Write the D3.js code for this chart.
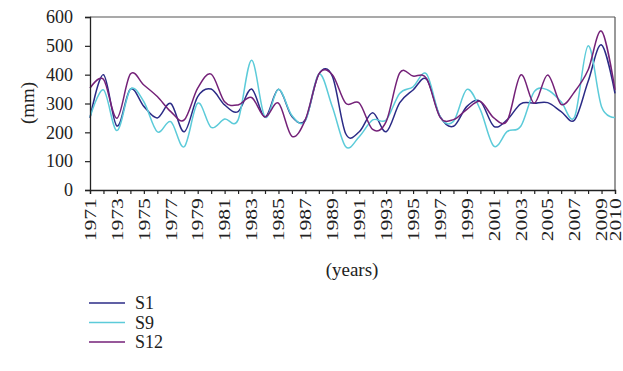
<!DOCTYPE html>
<html><head><meta charset="utf-8">
<script src="https://cdn.jsdelivr.net/npm/d3@7"></script>
<style>
body{margin:0;background:#fff}
text{font-family:"Liberation Serif",Tinos,"Times New Roman",Times,serif;fill:#222}
</style>
</head><body>
<svg id="c" width="623" height="371"></svg>
<script>
const years = d3.range(1971, 2011);
const xTickLabels = [1971,1973,1975,1977,1979,1981,1983,1985,1987,1989,1991,1993,1995,1997,1999,2001,2003,2005,2007,2009,2010];
const yTicks = [0,100,200,300,400,500,600];
const seriesNames = ["S1","S9","S12"];
const seriesColors = ["#2b2b86","#5ccbd9","#742178"];
const s1 = [250,400,222,350,290,250,300,202,324,350,295,272,350,253,349,255,244,402,395,195,202,268,202,302,347,384,255,221,290,307,221,244,299,301,303,272,243,376,503,335];
const s9 = [252,347,206,349,306,202,237,150,301,217,246,243,450,253,349,258,240,402,289,150,185,243,243,335,358,402,255,238,349,278,152,203,221,341,347,306,254,500,289,252];
const s12 = [353,384,249,402,364,324,272,243,353,402,306,295,321,253,301,186,244,402,400,301,302,210,237,405,395,387,253,244,280,307,250,241,399,301,399,297,341,416,551,347];
const series = [s1, s9, s12];

const svg = d3.select("#c");
const x = d3.scaleLinear().domain([1971,2010]).range([90,615]);
const y = d3.scaleLinear().domain([0,600]).range([190,17]);

// frame (top and right)
svg.append("line").attr("x1",90).attr("x2",615).attr("y1",y(600)).attr("y2",y(600)).attr("stroke","#555").attr("stroke-width",1.2);
svg.append("line").attr("x1",615).attr("x2",615).attr("y1",y(600)).attr("y2",y(0)).attr("stroke","#555").attr("stroke-width",1.2);

// lines
const line = d3.line().x((d,i)=>x(years[i])).y(d=>y(d)).curve(d3.curveCardinal.tension(0));
series.forEach((s,k)=>{
  svg.append("path").attr("d",line(s)).attr("fill","none").attr("stroke",seriesColors[k]).attr("stroke-width",1.5);
});

// y axis
const ya = svg.append("g").attr("transform","translate(90,0)")
  .call(d3.axisLeft(y).tickValues(yTicks).tickSize(5).tickPadding(12));
ya.select(".domain").attr("stroke","#222").attr("stroke-width",1.3);
ya.selectAll(".tick line").attr("stroke","#222").attr("stroke-width",1.2);
ya.selectAll("text").style("font-size","18px").attr("fill","#222");

// x axis
const xa = svg.append("g").attr("transform","translate(0,190)")
  .call(d3.axisBottom(x).tickValues(years).tickSize(4).tickFormat(d=>xTickLabels.includes(d)?String(d):""));
xa.select(".domain").attr("stroke","#222").attr("stroke-width",1.3);
xa.selectAll(".tick line").attr("stroke","#222").attr("stroke-width",1.2);
xa.selectAll("text").style("font-size","16px").attr("fill","#222")
  .attr("y",0).attr("x",-6).attr("dy","0.33em").attr("transform","rotate(-90) scale(1.35,1)").style("text-anchor","end");

// axis titles
svg.append("text").attr("transform","translate(27,103) rotate(-90)").attr("text-anchor","middle").attr("dy","0.35em").style("font-size","19px").text("(mm)");
svg.append("text").attr("x",352).attr("y",276).attr("text-anchor","middle").style("font-size","19px").text("(years)");

// legend
const lg = svg.append("g");
seriesNames.forEach((n,k)=>{
  const yy = 303 + k*19.5;
  lg.append("line").attr("x1",89).attr("x2",125).attr("y1",yy).attr("y2",yy).attr("stroke",seriesColors[k]).attr("stroke-width",1.5);
  lg.append("text").attr("x",135).attr("y",yy).attr("dy","0.35em").style("font-size","18px").text(n);
});
</script>
</body></html>
